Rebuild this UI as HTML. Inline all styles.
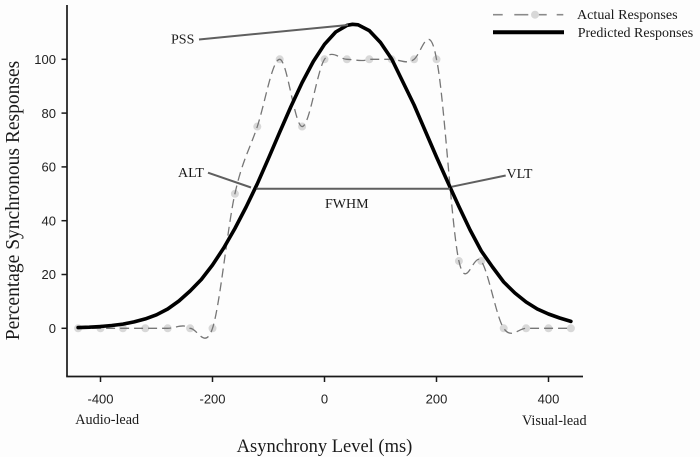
<!DOCTYPE html>
<html>
<head>
<meta charset="utf-8">
<style>
  html, body { margin: 0; padding: 0; background: #fdfdfd; }
  svg { display: block; }
  .serif { font-family: "Liberation Serif", "Times New Roman", serif; fill: #1a1a1a; }
  .sans { font-family: "Liberation Sans", Arial, sans-serif; fill: #222; }
</style>
</head>
<body>
<svg width="700" height="457" viewBox="0 0 700 457" xmlns="http://www.w3.org/2000/svg">
  <rect x="0" y="0" width="700" height="457" fill="#fdfdfd"/>

  <!-- Axes -->
  <line x1="67" y1="5" x2="67" y2="376.5" stroke="#1a1a1a" stroke-width="1.7"/>
  <line x1="66.2" y1="376.5" x2="583" y2="376.5" stroke="#1a1a1a" stroke-width="1.7"/>

  <!-- Y ticks -->
  <g stroke="#1a1a1a" stroke-width="1.5">
    <line x1="61.5" y1="328.3" x2="67" y2="328.3"/>
    <line x1="61.5" y1="274.5" x2="67" y2="274.5"/>
    <line x1="61.5" y1="220.7" x2="67" y2="220.7"/>
    <line x1="61.5" y1="166.9" x2="67" y2="166.9"/>
    <line x1="61.5" y1="113.1" x2="67" y2="113.1"/>
    <line x1="61.5" y1="59.3" x2="67" y2="59.3"/>
  </g>
  <g class="sans" font-size="13" text-anchor="end">
    <text x="56" y="333">0</text>
    <text x="56" y="279.2">20</text>
    <text x="56" y="225.4">40</text>
    <text x="56" y="171.6">60</text>
    <text x="56" y="117.8">80</text>
    <text x="56" y="64">100</text>
  </g>

  <!-- X ticks -->
  <g stroke="#1a1a1a" stroke-width="1.5">
    <line x1="100.5" y1="376.5" x2="100.5" y2="382"/>
    <line x1="212.5" y1="376.5" x2="212.5" y2="382"/>
    <line x1="324.5" y1="376.5" x2="324.5" y2="382"/>
    <line x1="436.5" y1="376.5" x2="436.5" y2="382"/>
    <line x1="548.5" y1="376.5" x2="548.5" y2="382"/>
  </g>
  <g class="sans" font-size="13" text-anchor="middle">
    <text x="100.5" y="403.5">-400</text>
    <text x="212.5" y="403.5">-200</text>
    <text x="324.5" y="403.5">0</text>
    <text x="436.5" y="403.5">200</text>
    <text x="548.5" y="403.5">400</text>
  </g>

  <!-- Axis titles -->
  <text class="serif" font-size="19.5" text-anchor="middle" transform="translate(19,200.5) rotate(-90)">Percentage Synchronous Responses</text>
  <text class="serif" font-size="18.5" x="324.5" y="452" text-anchor="middle">Asynchrony Level (ms)</text>
  <text class="serif" font-size="14.2" x="75.3" y="424">Audio-lead</text>
  <text class="serif" font-size="14.2" x="522" y="425">Visual-lead</text>

  <!-- Actual responses markers -->
  <g fill="#d8d8d8">
    <circle cx="78.1" cy="328.3" r="4"/>
    <circle cx="100.5" cy="328.3" r="4"/>
    <circle cx="122.9" cy="328.3" r="4"/>
    <circle cx="145.3" cy="328.3" r="4"/>
    <circle cx="167.7" cy="328.3" r="4"/>
    <circle cx="190.1" cy="328.3" r="4"/>
    <circle cx="212.5" cy="328.3" r="4"/>
    <circle cx="234.9" cy="193.8" r="4"/>
    <circle cx="257.3" cy="126.55" r="4"/>
    <circle cx="279.7" cy="59.3" r="4"/>
    <circle cx="302.1" cy="126.55" r="4"/>
    <circle cx="324.5" cy="59.3" r="4"/>
    <circle cx="346.9" cy="59.3" r="4"/>
    <circle cx="369.3" cy="59.3" r="4"/>
    <circle cx="391.7" cy="59.3" r="4"/>
    <circle cx="414.1" cy="59.3" r="4"/>
    <circle cx="436.5" cy="59.3" r="4"/>
    <circle cx="458.9" cy="261.05" r="4"/>
    <circle cx="481.3" cy="261.05" r="4"/>
    <circle cx="503.7" cy="328.3" r="4"/>
    <circle cx="526.1" cy="328.3" r="4"/>
    <circle cx="548.5" cy="328.3" r="4"/>
    <circle cx="570.9" cy="328.3" r="4"/>
  </g>

  <!-- Actual responses dashed spline -->
  <path d="M78.1,328.3 L167.7,328.3 C173,328.3 179,325.5 184,326 C187,326.3 188,328.3 190.1,328.3
           C197.57,328.3 205.03,350.72 212.5,328.3
           C219.97,305.88 227.43,227.43 234.9,193.8
           C242.37,160.18 249.83,148.97 257.3,126.55
           C264.77,104.13 272.23,59.3 279.7,59.3
           C287.17,59.3 294.63,126.55 302.1,126.55
           C309.57,126.55 317.03,70.51 324.5,59.3
           C331.97,48.09 339.43,59.3 346.9,59.3
           C354,59.3 361,62 369.3,59.3
           L391.7,59.3
           C399.17,59.3 406.63,65 414.1,59.3
           C421.57,53.6 429.03,17.3 436.5,59.3
           C443.97,92.93 451.43,227.43 458.9,261.05
           C466.37,294.68 473.83,249.84 481.3,261.05
           C488.77,272.26 496.23,317.09 503.7,328.3
           C511.17,339.51 518.63,328.3 526.1,328.3
           L570.9,328.3"
        fill="none" stroke="#767676" stroke-width="1.3" stroke-dasharray="9,5"/>

  <!-- Predicted responses (Gaussian fit) -->
  <polyline fill="none" stroke="#000" stroke-width="3.6" stroke-linejoin="round" stroke-linecap="round"
    points="78.1,327.6 89.3,327.2 100.5,326.5 111.7,325.5 122.9,324.1 134.1,321.9 145.3,318.9 156.5,314.8 167.7,309 178.9,301 190.1,291 201.3,279.5 212.5,265 223.7,248 234.9,228.5 246.1,207 257.3,183.8 268.5,158.3 279.7,132.2 290.9,106.6 302.1,82.6 313.3,61.5 324.5,44.3 335.7,32 346.9,25.4 352.5,24.3 358.1,24.8 369.3,30.6 380.5,42.5 391.7,59 402.9,82 414.1,105 425.3,131 436.5,157 447.7,182 458.9,206.5 470.1,230 481.3,251 492.5,267 503.7,282 514.9,293 526.1,302 537.3,309 548.5,314 559.7,318 570.9,321.4"/>

  <!-- Annotations -->
  <g stroke="#5f5f5f" stroke-width="2" fill="none">
    <line x1="199" y1="39.5" x2="348" y2="25"/>
    <line x1="208" y1="172.7" x2="251" y2="187.5"/>
    <line x1="256.5" y1="188.8" x2="450" y2="188.8"/>
    <line x1="452" y1="186.7" x2="505.7" y2="175.5"/>
  </g>
  <g class="serif" font-size="14">
    <text x="171" y="43.3">PSS</text>
    <text x="178" y="177">ALT</text>
    <text x="325" y="208">FWHM</text>
    <text x="506.5" y="178">VLT</text>
  </g>

  <!-- Legend -->
  <g stroke="#8a8a8a" stroke-width="1.6">
    <line x1="493" y1="14.7" x2="502.7" y2="14.7"/>
    <line x1="514.3" y1="14.7" x2="528.3" y2="14.7"/>
    <line x1="538" y1="14.7" x2="546.7" y2="14.7"/>
    <line x1="556.7" y1="14.7" x2="563.3" y2="14.7"/>
  </g>
  <circle cx="535" cy="14.7" r="4" fill="#d8d8d8"/>
  <line x1="493" y1="32.3" x2="564" y2="32.3" stroke="#000" stroke-width="4"/>
  <text class="serif" font-size="14.1" x="577" y="19.2">Actual Responses</text>
  <text class="serif" font-size="14" x="577.7" y="37">Predicted Responses</text>
</svg>
</body>
</html>
